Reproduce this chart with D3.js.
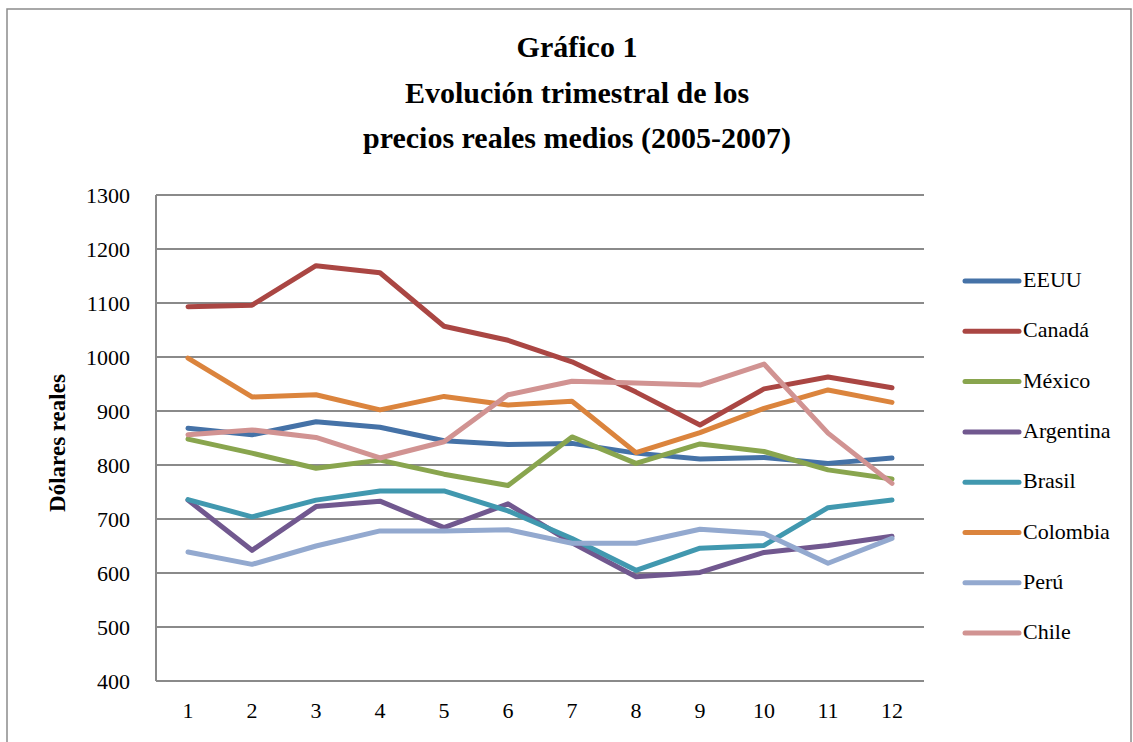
<!DOCTYPE html>
<meta charset="utf-8">
<style>
  body {margin: 0; background: #fff;}
  svg {display: block;}
  svg text {font-family: "Liberation Serif", "Times New Roman", serif;}
</style>
<svg width="1133" height="742"></svg>
<script src="https://d3js.org/d3.v7.min.js"></script>
<script>
  /**
   * ----------------------------------------------------------------------------
   * data
   * ----------------------------------------------------------------------------
   */
  const quarters = ["1","2","3","4","5","6","7","8","9","10","11","12"];
  const yTicks = [400, 500, 600, 700, 800, 900, 1000, 1100, 1200, 1300];
  const seriesNames = ["EEUU", "Canadá", "México", "Argentina", "Brasil", "Colombia", "Perú", "Chile"];

  const eeuu      = [868, 856, 880, 870, 845, 838, 840, 822, 811, 814, 803, 813];
  const canada    = [1093, 1096, 1169, 1156, 1057, 1031, 991, 935, 874, 941, 963, 943];
  const mexico    = [848, 822, 794, 809, 783, 762, 852, 803, 839, 825, 791, 774];
  const argentina = [735, 642, 723, 733, 684, 728, 656, 593, 601, 638, 651, 668];
  const brasil    = [736, 704, 735, 752, 752, 715, 664, 605, 646, 651, 721, 735];
  const colombia  = [998, 926, 930, 902, 927, 911, 918, 823, 860, 905, 939, 916];
  const peru      = [639, 616, 650, 678, 678, 680, 655, 655, 681, 673, 618, 664];
  const chile     = [856, 865, 851, 813, 843, 930, 955, 952, 948, 987, 859, 766];

  const colors = ["#4572A7", "#AA4643", "#89A54E", "#71588F", "#4198AF", "#DB843D", "#93A9CF", "#D19392"];
  const values = [eeuu, canada, mexico, argentina, brasil, colombia, peru, chile];

  /**
   * ----------------------------------------------------------------------------
   * layout
   * ----------------------------------------------------------------------------
   */
  const svg = d3.select("svg");
  const plot = {left: 156, right: 924, top: 195, bottom: 681};
  const serif = "Liberation Serif";

  const x = d3.scaleBand().domain(quarters).range([plot.left, plot.right]);
  const y = d3.scaleLinear().domain([400, 1300]).range([plot.bottom, plot.top]);

  // outer frame
  svg.append("rect")
    .attr("x", 7).attr("y", 9)
    .attr("width", 1124).attr("height", 760)
    .attr("fill", "none").attr("stroke", "#8c8c8c").attr("stroke-width", 1.5);

  // titles
  const titles = ["Gráfico 1", "Evolución trimestral de los", "precios reales medios (2005-2007)"];
  svg.append("g").selectAll("text")
    .data(titles).enter().append("text")
      .attr("x", 577)
      .attr("y", (d, i) => 57 + i * 45.5)
      .attr("text-anchor", "middle")
      .attr("font-family", serif)
      .attr("font-size", 30)
      .attr("font-weight", "bold")
      .text(d => d);

  /**--------------------------------------------------------------------------
   * grid + axes
   **------------------------------------------------------------------------**/
  svg.append("g")
    .selectAll("line")
    .data(yTicks).enter().append("line")
      .attr("x1", plot.left).attr("x2", plot.right)
      .attr("y1", d => y(d)).attr("y2", d => y(d))
      .attr("stroke", "#8a8a8a").attr("stroke-width", 2);

  svg.append("line")
    .attr("x1", plot.left).attr("x2", plot.left)
    .attr("y1", plot.top).attr("y2", plot.bottom)
    .attr("stroke", "#8a8a8a").attr("stroke-width", 2);

  const yAxis = svg.append("g")
    .attr("transform", `translate(${plot.left},0)`)
    .call(d3.axisLeft(y).tickValues(yTicks).tickFormat(d3.format("d")).tickSize(0).tickPadding(26));
  yAxis.select(".domain").remove();
  yAxis.selectAll("text")
    .attr("font-family", serif).attr("font-size", 22).attr("fill", "#000");

  const xAxis = svg.append("g")
    .attr("transform", `translate(0,${plot.bottom})`)
    .call(d3.axisBottom(x).tickSize(0));
  xAxis.select(".domain").remove();
  xAxis.selectAll("text")
    .attr("y", 37).attr("dy", 0)
    .attr("font-family", serif).attr("font-size", 22).attr("fill", "#000");

  svg.append("text")
    .attr("transform", "translate(65,443) rotate(-90)")
    .attr("text-anchor", "middle")
    .attr("font-family", serif)
    .attr("font-size", 23)
    .attr("font-weight", "bold")
    .text("Dólares reales");

  /**--------------------------------------------------------------------------
   * lines
   **------------------------------------------------------------------------**/
  const line = d3.line()
    .x((d, i) => x(quarters[i]) + x.bandwidth() / 2)
    .y(d => y(d));

  svg.append("g")
    .selectAll("path")
    .data(values).enter().append("path")
      .attr("d", d => line(d))
      .attr("fill", "none")
      .attr("stroke", (d, i) => colors[i])
      .attr("stroke-width", 5)
      .attr("stroke-linejoin", "round")
      .attr("stroke-linecap", "round");

  /**--------------------------------------------------------------------------
   * legend
   **------------------------------------------------------------------------**/
  const legend = svg.append("g")
    .selectAll("g")
    .data(seriesNames).enter().append("g")
      .attr("transform", (d, i) => `translate(965,${281 + i * 50.3})`);

  legend.append("line")
    .attr("x1", 0).attr("x2", 54)
    .attr("stroke", (d, i) => colors[i])
    .attr("stroke-width", 5)
    .attr("stroke-linecap", "round");

  legend.append("text")
    .attr("x", 58).attr("y", 6)
    .attr("font-family", serif)
    .attr("font-size", 22)
    .text(d => d);
</script>
